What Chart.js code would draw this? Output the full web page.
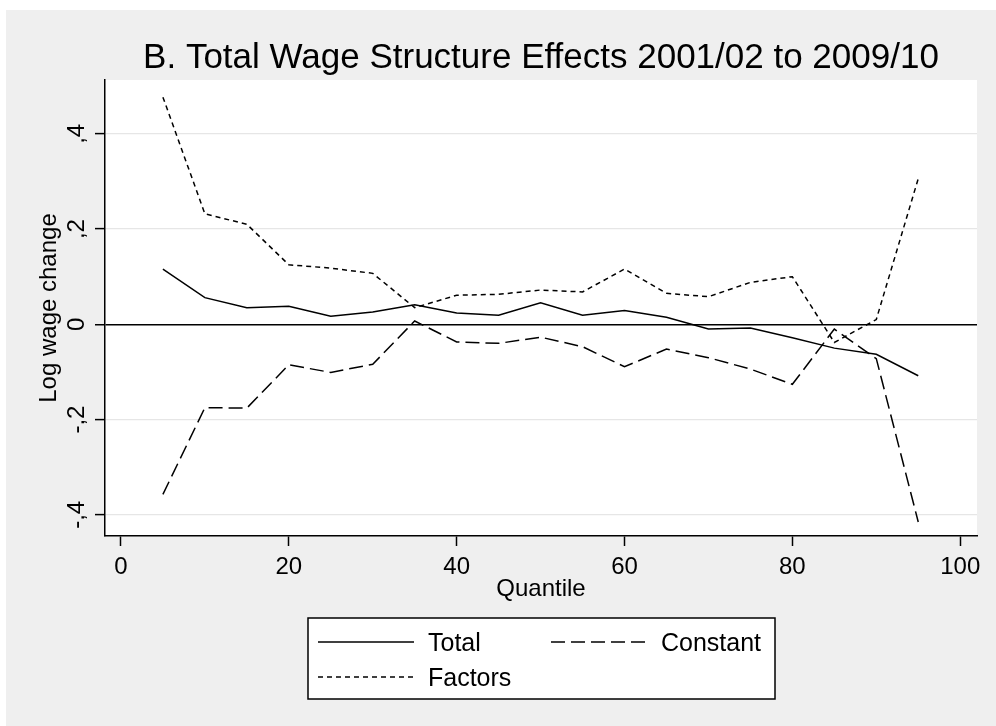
<!DOCTYPE html>
<html>
<head>
<meta charset="utf-8">
<title>Total Wage Structure Effects</title>
<script src="https://cdn.jsdelivr.net/npm/chart.js@4"></script>
<style>
  html, body { margin: 0; padding: 0; background: #fff; }
</style>
</head>
<body>
<canvas id="graphicFirst" width="996" height="726"></canvas>
<script>
// Wage structure decomposition chart (Stata look-alike)

// ---DATA
const quantiles = [5, 10, 15, 20, 25, 30, 35, 40, 45, 50, 55, 60, 65, 70, 75, 80, 85, 90, 95];
const totalVals = [0.116, 0.056, 0.035, 0.038, 0.017, 0.026, 0.041, 0.024, 0.019, 0.045,
                   0.019, 0.029, 0.015, -0.010, -0.008, -0.028, -0.050, -0.063, -0.108];
const constantVals = [-0.357, -0.175, -0.176, -0.085, -0.101, -0.084, 0.007, -0.037, -0.040, -0.027,
                      -0.047, -0.089, -0.052, -0.070, -0.094, -0.126, -0.010, -0.072, -0.415];
const factorVals = [0.477, 0.232, 0.210, 0.125, 0.118, 0.107, 0.035, 0.061, 0.063, 0.072,
                    0.068, 0.116, 0.065, 0.058, 0.088, 0.100, -0.038, 0.010, 0.306];

const xTicks = [0, 20, 40, 60, 80, 100];
const yTicks = [-0.4, -0.2, 0, 0.2, 0.4];
const yTickLabels = ['-,4', '-,2', '0', ',2', ',4'];
const seriesNames = ['Total', 'Constant', 'Factors'];

const titleText = 'B. Total Wage Structure Effects 2001/02 to 2009/10';
const xTitle = 'Quantile';
const yTitle = 'Log wage change';

const FONT = '"Liberation Sans", Arial, sans-serif';

function toPoints(vals) {
  return quantiles.map((q, i) => ({ x: q, y: vals[i] }));
}

//-----PLUGIN: background, title, rotated y labels, boxed legend
const stataFrame = {
  id: 'stataFrame',
  beforeDraw(chart) {
    const { ctx, chartArea: a } = chart;
    ctx.save();
    ctx.fillStyle = '#ffffff';
    ctx.fillRect(0, 0, chart.width, chart.height);
    ctx.fillStyle = '#efefef';
    ctx.fillRect(6, 10, chart.width - 6, chart.height - 10);
    ctx.fillStyle = '#ffffff';
    ctx.fillRect(a.left, a.top, a.right - a.left, a.bottom - a.top);
    ctx.restore();
  },
  afterDraw(chart) {
    const { ctx, chartArea: a, scales } = chart;
    const cx = (a.left + a.right) / 2;
    ctx.save();
    ctx.fillStyle = '#000';
    ctx.textBaseline = 'alphabetic';

    // title
    ctx.font = '35px ' + FONT;
    ctx.textAlign = 'center';
    ctx.fillText(titleText, cx, 68);

    // y tick labels (rotated)
    ctx.font = '24px ' + FONT;
    yTicks.forEach((v, i) => {
      ctx.save();
      ctx.translate(84, scales.y.getPixelForValue(v));
      ctx.rotate(-Math.PI / 2);
      ctx.fillText(yTickLabels[i], 0, 0);
      ctx.restore();
    });

    // y title
    ctx.save();
    ctx.translate(56, (a.top + a.bottom) / 2);
    ctx.rotate(-Math.PI / 2);
    ctx.fillText(yTitle, 0, 0);
    ctx.restore();

    // legend box
    const lw = 467, lh = 81;
    const lx = Math.round(cx - lw / 2), ly = 618;
    ctx.fillStyle = '#fff';
    ctx.fillRect(lx, ly, lw, lh);
    ctx.strokeStyle = '#000';
    ctx.lineWidth = 1.5;
    ctx.strokeRect(lx, ly, lw, lh);

    const slots = [
      { x: lx + 10, y: ly + 24 },
      { x: lx + 243, y: ly + 24 },
      { x: lx + 10, y: ly + 59 }
    ];
    ctx.font = '25px ' + FONT;
    ctx.textAlign = 'left';
    chart.data.datasets.forEach((ds, i) => {
      const s = slots[i];
      ctx.beginPath();
      ctx.setLineDash(ds.borderDash || []);
      ctx.strokeStyle = ds.borderColor;
      ctx.lineWidth = ds.borderWidth;
      ctx.moveTo(s.x, s.y);
      ctx.lineTo(s.x + 96, s.y);
      ctx.stroke();
      ctx.setLineDash([]);
      ctx.fillStyle = '#000';
      ctx.fillText(ds.label, s.x + 110, s.y + 9);
    });
    ctx.restore();
  }
};

//-----CHART
const ctx = document.getElementById('graphicFirst').getContext('2d');
const chart1 = new Chart(ctx, {
  type: 'line',
  data: {
    datasets: [
      { label: seriesNames[0], data: toPoints(totalVals), borderColor: '#000', borderWidth: 1.5 },
      { label: seriesNames[1], data: toPoints(constantVals), borderColor: '#000', borderWidth: 1.5, borderDash: [14, 6] },
      { label: seriesNames[2], data: toPoints(factorVals), borderColor: '#000', borderWidth: 1.5, borderDash: [5, 4] }
    ]
  },
  options: {
    responsive: false,
    animation: false,
    elements: { point: { radius: 0 }, line: { tension: 0, fill: false } },
    layout: { padding: { top: 80, right: 19, bottom: 122, left: 0 } },
    plugins: {
      legend: { display: false },
      title: { display: false },
      tooltip: { enabled: false }
    },
    scales: {
      x: {
        type: 'linear',
        min: -1.9,
        max: 102,
        afterBuildTicks: s => { s.ticks = xTicks.map(v => ({ value: v })); },
        afterFit: s => { s.height = 68; },
        grid: { drawOnChartArea: false, drawTicks: true, tickLength: 10, tickColor: '#000', tickWidth: 1.5 },
        border: { display: true, color: '#000', width: 1.5 },
        ticks: { color: '#000', font: { family: FONT, size: 24 }, padding: 7, maxRotation: 0 },
        title: { display: true, text: xTitle, color: '#000', font: { family: FONT, size: 24 }, padding: 0 }
      },
      y: {
        type: 'linear',
        min: -0.4445,
        max: 0.513,
        afterBuildTicks: s => { s.ticks = yTicks.map(v => ({ value: v })); },
        afterFit: s => { s.width = 105; },
        grid: {
          color: c => (c.tick && c.tick.value === 0 ? '#000' : '#e6e6e6'),
          lineWidth: c => (c.tick && c.tick.value === 0 ? 1.5 : 1.2),
          tickColor: '#000',
          tickLength: 10,
          tickWidth: 1.5
        },
        border: { display: true, color: '#000', width: 1.5 },
        ticks: { display: false }
      }
    }
  },
  plugins: [stataFrame]
});
</script>
</body>
</html>
